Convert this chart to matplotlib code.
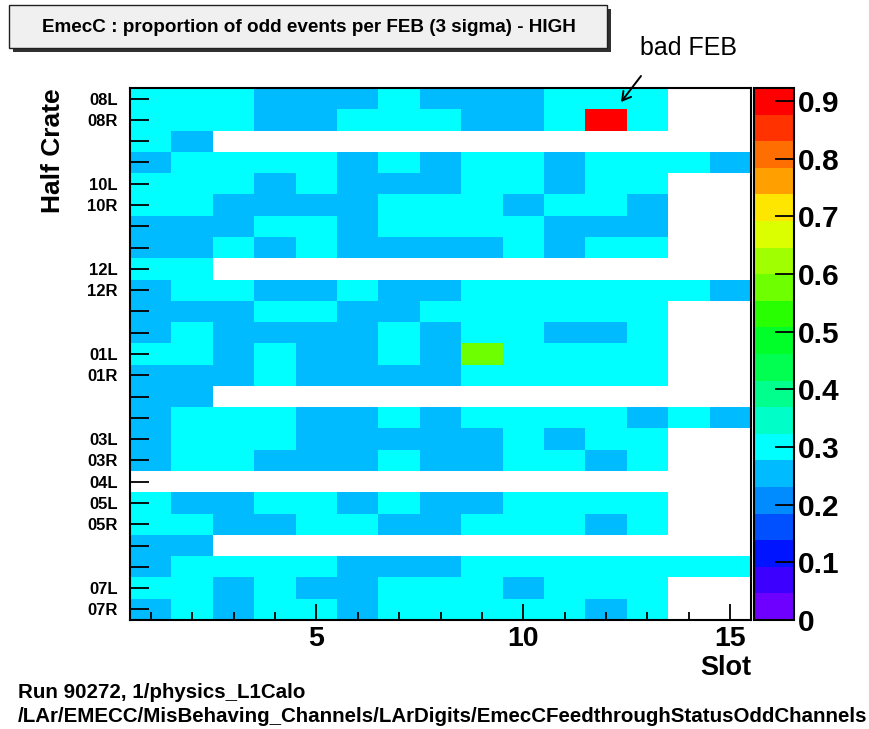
"""
EmecC : proportion of odd events per FEB (3 sigma) - HIGH
ROOT 风格的 COLZ 二维直方图（Half Crate × Slot）。
"""

import matplotlib as mpl
import matplotlib.pyplot as plt
import numpy as np
from matplotlib.colors import BoundaryNorm, ListedColormap
from matplotlib.patches import Rectangle

mpl.rcParams["font.family"] = ["Liberation Sans", "DejaVu Sans"]

# ---- data ---------------------------------------------------------------
SLOTS = list(range(1, 16))

# 每行一个 half crate（从上到下），空字符串表示无标签
ROW_LABELS = [
    "08L", "08R", "", "", "10L", "10R", "", "", "12L", "12R", "", "",
    "01L", "01R", "", "", "03L", "03R", "04L", "05L", "05R", "", "",
    "07L", "07R",
]

# 单元格读数代码：c≈0.30  b≈0.25  g≈0.58  r≈0.91  .=空
CELL_VALUE = {"c": 0.30, "b": 0.25, "g": 0.58, "r": 0.91}
CELL_ROWS = [
    "cccbbbcbbbccc..",
    "cccbbcccbbcrc..",
    "cb.............",
    "bccccbcbccbcccb",
    "cccbcbbbccbcc..",
    "ccbbbbcccbccb..",
    "bbbccbccccbbb..",
    "bbcbcbbbbcbcc..",
    "cc.............",
    "bccbbcbbccccccb",
    "bbbccbbcccccc..",
    "bcbbbbcbccbbc..",
    "ccbcbbcbgcccc..",
    "bbbcbbbbccccc..",
    "bb.............",
    "bcccbbcbccccbcb",
    "bcccbbbbbcbcc..",
    "bccbbbcbbccbc..",
    "...............",
    "cbbccbcbbcccc..",
    "ccbbccbbcccbc..",
    "bb.............",
    "bccccbbbccccccc",
    "ccbcbbcccbccc..",
    "bcbccbcccccbc..",
]

Z_MAX = 0.9225
Z_TICKS = [0, 0.1, 0.2, 0.3, 0.4, 0.5, 0.6, 0.7, 0.8, 0.9]

# ROOT 老式 pretty palette，20 个等级
BAND_COLORS = [
    "#6e00ff", "#3c00ff", "#0014ff", "#0050ff", "#008cff",
    "#00bbff", "#00ffff", "#00ffc8", "#00ff8c", "#00ff50",
    "#00ff28", "#28ff00", "#6eff00", "#a0ff00", "#dcff00",
    "#ffe600", "#ffa000", "#ff6e00", "#ff3200", "#ff0000",
]


def build_grid() -> np.ma.MaskedArray:
    grid = np.full((len(CELL_ROWS), len(SLOTS)), np.nan)
    for i, row in enumerate(CELL_ROWS):
        for j, code in enumerate(row):
            if code in CELL_VALUE:
                grid[i, j] = CELL_VALUE[code]
    return np.ma.masked_invalid(grid)


def main() -> None:
    W, H = 869, 729
    fig = plt.figure(figsize=(W / 100, H / 100), dpi=100)
    fig.patch.set_facecolor("white")

    def fx(px):
        return px / W

    def fy(py):
        return 1 - py / H

    ax = fig.add_axes([fx(130), fy(620), fx(751) - fx(130), fy(88) - fy(620)])
    cax = fig.add_axes([fx(754), fy(620), fx(794) - fx(754), fy(88) - fy(620)])

    cmap = ListedColormap(BAND_COLORS)
    norm = BoundaryNorm(np.linspace(0, Z_MAX, len(BAND_COLORS) + 1), cmap.N)

    grid = build_grid()
    x_edges = np.arange(len(SLOTS) + 1) + 0.5
    y_edges = np.arange(len(CELL_ROWS) + 1)
    mesh = ax.pcolormesh(x_edges, y_edges, grid, cmap=cmap, norm=norm)
    ax.set_xlim(0.5, 15.5)
    ax.set_ylim(len(CELL_ROWS), 0)

    ax.set_xticks([5, 10, 15])
    ax.set_xticks(SLOTS, minor=True)
    ax.set_xticklabels(["5", "10", "15"], fontsize=20.5, fontweight="bold")
    ax.set_yticks(np.arange(len(CELL_ROWS)) + 0.5)
    ax.set_yticklabels(ROW_LABELS, fontsize=12, fontweight="bold")
    ax.tick_params(axis="x", which="major", direction="in", length=11.5, width=1.3, pad=4)
    ax.tick_params(axis="x", which="minor", direction="in", length=6, width=1.3)
    ax.tick_params(axis="y", which="major", direction="in", length=14, width=1.3, pad=9)
    ax.tick_params(axis="y", which="minor", left=False)
    for s in ax.spines.values():
        s.set_linewidth(1.5)

    ax.set_ylabel("Half Crate", fontsize=19, fontweight="bold", loc="top")
    ax.yaxis.set_label_coords(-0.105, 1.0)
    ax.set_xlabel("Slot", fontsize=19.5, fontweight="bold", loc="right")
    ax.xaxis.set_label_coords(1.0, -0.066)

    cb = fig.colorbar(mesh, cax=cax, ticks=Z_TICKS)
    cb.ax.set_yticklabels(["0" if t == 0 else f"{t:.1f}" for t in Z_TICKS],
                          fontsize=21.5, fontweight="bold")
    cb.ax.tick_params(direction="in", length=14, width=1.3, pad=3, right=True)
    cb.ax.minorticks_off()
    cb.outline.set_linewidth(1.5)

    # 标题框（带阴影）
    fig.patches.append(Rectangle((fx(13), fy(52)), fx(611) - fx(13), fy(9) - fy(52),
                                 transform=fig.transFigure, facecolor="#303030",
                                 edgecolor="none", zorder=1))
    fig.patches.append(Rectangle((fx(9), fy(48)), fx(607) - fx(9), fy(5) - fy(48),
                                 transform=fig.transFigure, facecolor="#f0f0f0",
                                 edgecolor="#202020", linewidth=1.0, zorder=2))
    fig.text(fx(309), fy(27), "EmecC : proportion of odd events per FEB (3 sigma) - HIGH",
             ha="center", va="center", fontsize=13.6, fontweight="bold", zorder=3)

    # bad FEB 标注
    fig.text(fx(689), fy(48), "bad FEB", ha="center", va="center", fontsize=18)
    ax.annotate("", xy=(12.36, 0.66), xycoords="data",
                xytext=(fx(641), fy(76)), textcoords="figure fraction",
                arrowprops=dict(arrowstyle="->,head_length=0.6,head_width=0.35",
                                color="black", lw=1.4, shrinkA=0, shrinkB=0),
                annotation_clip=False)

    fig.text(fx(18), fy(692), "Run 90272, 1/physics_L1Calo",
             ha="left", va="center", fontsize=14.8, fontweight="bold")
    fig.text(fx(18), fy(717),
             "/LAr/EMECC/MisBehaving_Channels/LArDigits/EmecCFeedthroughStatusOddChannels",
             ha="left", va="center", fontsize=14.8, fontweight="bold")

    fig.savefig("out.png", dpi=100)
    plt.close(fig)


if __name__ == "__main__":
    main()
